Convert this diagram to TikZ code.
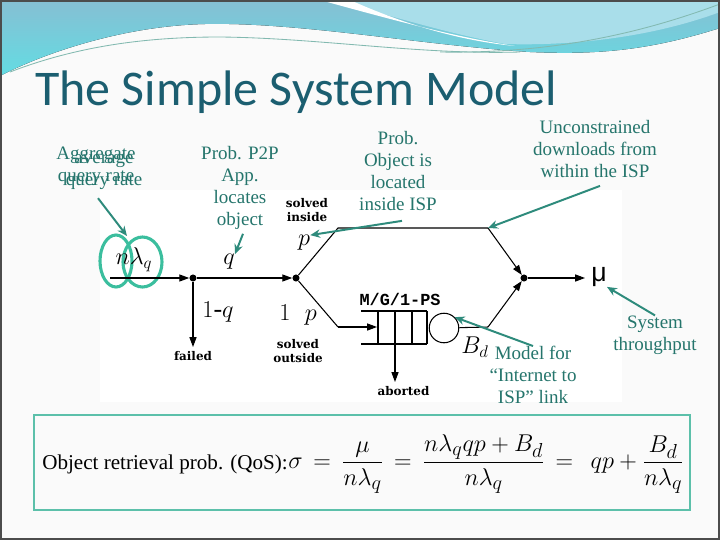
\documentclass[tikz,border=0pt]{standalone}
\usepackage{amsmath}
\usepackage{fontspec}
\setmainfont{Liberation Serif}
\newfontfamily\titlefont{Carlito}
\newfontfamily\labelfont{DejaVu Serif}
\newfontfamily\codefont{Liberation Mono}
\newfontfamily\mufont{Liberation Sans}
\usetikzlibrary{arrows.meta, positioning, calc}
\definecolor{titleblue}{HTML}{1B5E70}
\definecolor{noteteal}{HTML}{25756C}
\definecolor{arrowteal}{HTML}{2E8B7C}
\definecolor{ringteal}{HTML}{3BBE9E}
\definecolor{boxteal}{HTML}{5CC0AA}
\definecolor{waveA}{HTML}{86BFD3}
\definecolor{waveB}{HTML}{63DCE3}
\definecolor{waveC}{HTML}{A9DEEA}

\begin{document}
\begin{tikzpicture}[x=0.025cm, y=-0.025cm, >=Stealth,
  note/.style={text=noteteal, font=\fontsize{13.5}{15.6}\selectfont, align=center, inner sep=0pt},
  tag/.style={font=\labelfont\bfseries\fontsize{8.5}{10}\selectfont, align=center, inner sep=0pt},
  var/.style={font=\fontsize{18.5}{18.5}\selectfont, inner sep=0pt},
  dot/.style={circle, fill, inner sep=0pt, minimum size=5pt},
  wire/.style={line width=0.75pt},
  flow/.style={wire, -{Triangle[length=7pt, width=5pt]}},
  pointer/.style={arrowteal, line width=1.4pt, -{Stealth[length=7pt, width=6pt]}},
  ring/.style={ringteal, line width=2.2pt}]
  \useasboundingbox (0,0) rectangle (720,540);
  \fill[gray!4] (0,0) rectangle (720,540);
  \fill[white] (100,190) rectangle (622,402);
  % header waves
  \fill[top color=waveA, bottom color=waveB] (0,0) -- (720,0) -- (720,28)
    .. controls (650,50) and (600,55) .. (530,52)
    .. controls (420,45) and (300,22) .. (205,24)
    .. controls (120,26) and (40,55) .. (0,76) -- cycle;
  \fill[waveC] (330,0) -- (720,0) -- (720,12)
    .. controls (650,38) and (570,46) .. (505,44)
    .. controls (440,32) and (380,12) .. (330,0);
  \fill[white] (320,0) .. controls (400,22) and (460,38) .. (515,46)
    .. controls (450,40) and (390,18) .. (350,0) -- cycle;
  \draw[arrowteal!60, line width=0.6pt] (10,72) .. controls (80,45) and (150,37) .. (220,37)
    .. controls (320,38) and (420,55) .. (520,52);
  \draw[arrowteal!60, line width=0.6pt] (440,52) .. controls (560,54) and (650,30) .. (720,4);
  \draw[gray!60!black, line width=1.2pt] (0.7,0.7) rectangle (719.3,539.3);

  \node[anchor=base west, inner sep=0pt, text=titleblue, font=\titlefont\fontsize{35.5}{40}\selectfont] (title) at (35,105) {The Simple System Model};

  % queueing network
  \draw[ring] (116,261) ellipse [x radius=16, y radius=26];
  \draw[ring] (142.5,262) ellipse [x radius=19.5, y radius=25];
  \node[var] (rate) at (134,260) {$n\lambda_q$};
  \coordinate (src) at (110,278);
  \node[dot] (fork) at (193,278) {};
  \node[dot] (split) at (296,278) {};
  \node[dot] (join) at (524,278) {};
  \coordinate (ul) at (338,228);
  \coordinate (ur) at (488,228);
  \coordinate (ll) at (338,327);
  \coordinate (lr) at (488,327);
  \coordinate (qin) at (377,327);
  \coordinate (qout) at (395,344);
  \coordinate (out) at (585,278);
  \node[circle, draw, wire, minimum size=21pt, inner sep=0pt] (server) at (444,328) {};
  \draw[wire] (361,311) -- (427,311) (361,344) -- (427,344);
  \foreach \xq in {378,395,412,427}
    \draw[wire] (\xq,311) -- (\xq,344);

  \draw[flow] (src) -- (fork);
  \draw[flow] (fork) -- (split);
  \draw[flow] (fork) -- (193,347) node[tag, below=3pt] (failed) {failed};
  \draw[wire] (split) -- (ul) -- (ur);
  \draw[flow] (ur) -- (join);
  \draw[wire] (split) -- (ll);
  \draw[flow] (ll) -- (qin);
  \draw[wire] (server) -- (lr);
  \draw[flow] (lr) -- (join);
  \draw[flow] (join) -- (out);
  \draw[flow] (qout) -- (395,382) node[tag, below=3pt, xshift=6pt] (aborted) {aborted};

  \node[var] (qlab) at (229,262) {$q$};
  \node[var] (nqlab) at (218,312) {$1\text{-}q$};
  \node[var] (plab) at (304,243) {$p$};
  \node[var] (nplab) at (298,315) {$1\hspace{0.55em}p$};
  \node[var] (bdlab) at (475,347) {$B_d$};
  \node[inner sep=0pt, font=\mufont\fontsize{19}{19}\selectfont] (mu) at (599,277) {μ};
  \node[tag] (inside) at (307,210) {solved\\inside};
  \node[tag] (outside) at (298,351) {solved\\outside};
  \node[inner sep=0pt, font=\codefont\bfseries\fontsize{12}{12}\selectfont] (mg1) at (400,299) {M/G/1-PS};

  % annotations
  \node[note] (aggnote) at (96,166) {Aggregate\\query rate};
  \node[note] (avgnote) at (104,172) {average\\query rate};
  \node[note] (p2pnote) at (240,188) {Prob. P2P\\App.\\locates\\object};
  \node[note] (ispnote) at (398,171) {Prob.\\Object is\\located\\inside ISP};
  \node[note] (freenote) at (595,149) {Unconstrained\\downloads from\\within the ISP};
  \node[note] (thrnote) at (655,335) {System\\throughput};
  \node[note] (linknote) at (533,375) {Model for\\“Internet to\\ISP” link};
  \coordinate (ringtop) at (127,236);
  \draw[pointer] ($(avgnote.south)+(-6,8)$) -- (ringtop);
  \draw[pointer] ($(p2pnote.south)+(3,4)$) -- (qlab.north east);
  \draw[pointer] ($(ispnote.south)+(4,10)$) -- (plab.north east);
  \draw[pointer] ($(freenote.south)+(5,8)$) -- (ur);
  \draw[pointer] (thrnote.north) -- (mu.south east);
  \draw[pointer] (linknote.north) -- (server.north east);

  % QoS box
  \draw[boxteal, line width=1.6pt] (34,415) rectangle (690,510);
  \node[anchor=west, inner sep=0pt, font=\fontsize{15}{17}\selectfont] (qoslabel) at (42,464) {Object retrieval prob. (QoS):};
  \node[anchor=west, inner sep=0pt, font=\fontsize{19}{22}\selectfont] (qosformula) at (qoslabel.east)
    {$\displaystyle \sigma \,=\, \frac{\mu}{n\lambda_q} \,=\, \frac{n\lambda_q qp + B_d}{n\lambda_q} \,=\, \ qp + \frac{B_d}{n\lambda_q}$};
\end{tikzpicture}
\end{document}
